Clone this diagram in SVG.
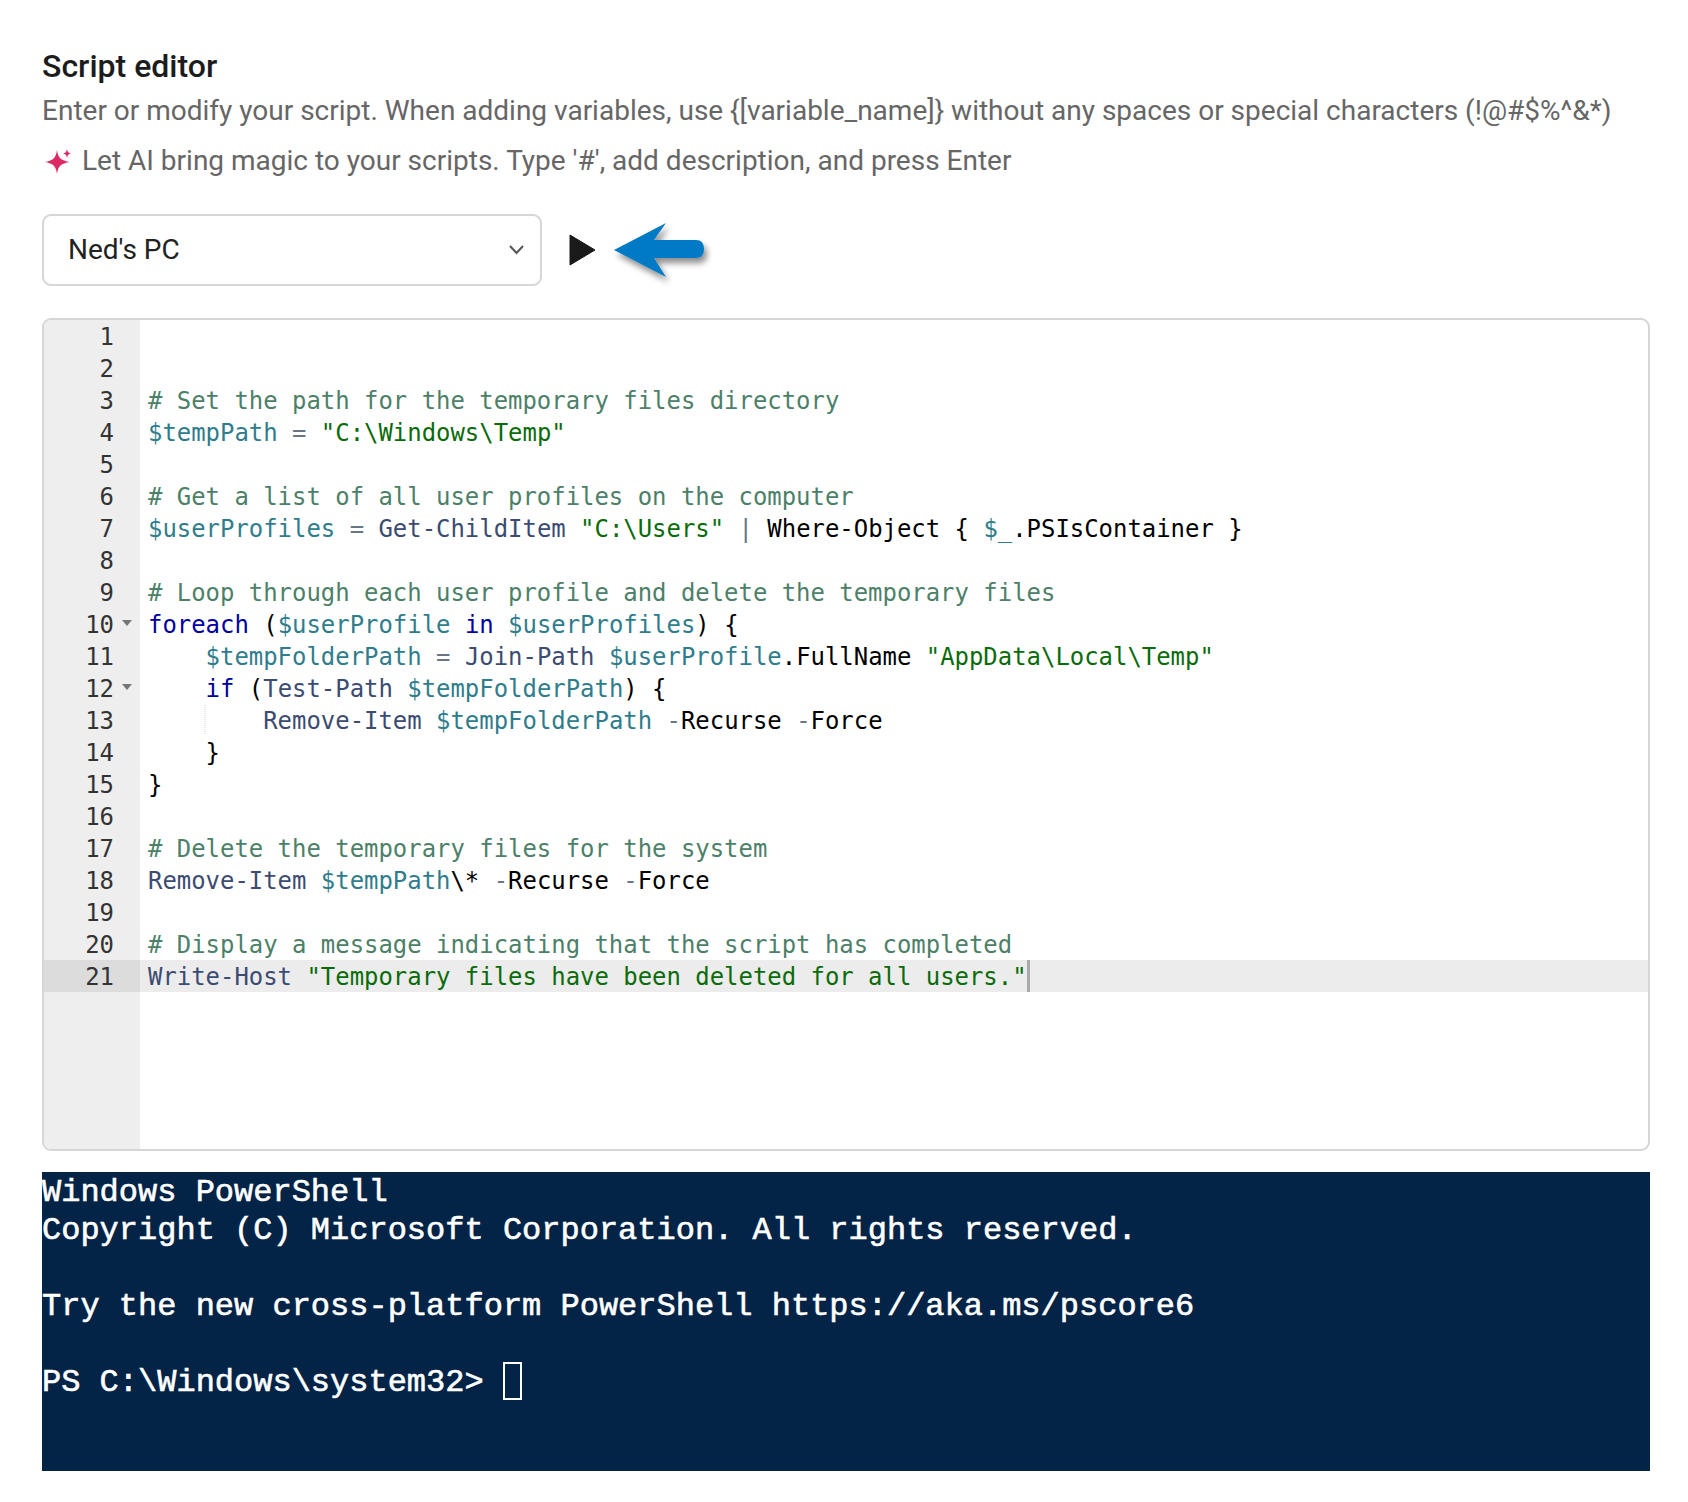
<svg xmlns="http://www.w3.org/2000/svg" width="1688" height="1502" viewBox="0 0 1688 1502">
<style>
text{white-space:pre}
.r{font-family:Roboto,"Liberation Sans",sans-serif}
.h{font-size:32px;font-weight:500;fill:#1c1c1c}
.s{font-size:28px;fill:#666}
.n{font-family:"DejaVu Sans Mono",monospace;font-size:23.93px;fill:#333;text-anchor:end}
.c{font-family:"DejaVu Sans Mono",monospace;font-size:23.93px;fill:#000}
.cm{fill:#4c8068}.v{fill:#2f7d8c}.st{fill:#0a6b0a}.k{fill:#0000a2}.f{fill:#3c4b72}.o{fill:#687687}
.t{font-family:"Liberation Mono",monospace;font-size:32px;fill:#fff;stroke:#fff;stroke-width:.6px}
</style>
<defs>
<filter id="shadow" x="-30%" y="-30%" width="170%" height="170%"><feDropShadow dx="3" dy="5" stdDeviation="3" flood-color="#000" flood-opacity=".45"/></filter>
</defs>
<rect width="1688" height="1502" fill="#fff"/>
<g id="header">
<text class="r h" x="42" y="76.5">Script editor</text>
<text class="r s" x="42" y="120">Enter or modify your script. When adding variables, use {[variable_name]} without any spaces or special characters (!@#$%^&amp;*)</text>
<path d="M57 150C58 158 61 160.500 70 162C61 163.500 58 166 57 174C56 166 53 163.500 45 162C53 160.500 56 158 57 150Z M67 149C67.500 152 68.500 153 71 153.500C68.500 154 67.500 155 67 158C66.500 155 65.500 154 63 153.500C65.500 153 66.500 152 67 149Z" fill="#dc2a64"/>
<text class="r s" x="82" y="170">Let AI bring magic to your scripts. Type '#', add description, and press Enter</text>
</g>
<g id="selector">
<rect x="43" y="215" width="498" height="70" rx="8" fill="#fff" stroke="#d6d6d6" stroke-width="2"/>
<text class="r" x="68" y="259" font-size="28" fill="#222">Ned's PC</text>
<path d="M510 246L516.500 253L523 246" fill="none" stroke="#555" stroke-width="2"/>
</g>
<g id="play"><path d="M570 235L595 250L570 265Z" fill="#1a1a1a" stroke="#1a1a1a" stroke-width="1" stroke-linejoin="round"/></g>
<g id="connectors">
<path d="M614 250L666 223L654 240H696Q704 240 704 249Q704 258 696 258H654L666 277Z" fill="#067ac4" filter="url(#shadow)"/>
</g>
<g id="editor">
<rect x="43" y="319" width="1606" height="831" rx="8" fill="#fff" stroke="#d6d6d6" stroke-width="2"/>
<path d="M44 327Q44 320 51 320H140V1149H51Q44 1149 44 1142Z" fill="#eee"/>
<rect x="44" y="960" width="96" height="32" fill="#dcdcdc"/>
<rect x="140" y="960" width="1508" height="32" fill="#ececec"/>
<rect x="1027" y="960" width="3" height="32" fill="#aaa"/>
<path d="M122 620H132L127 626Z M122 684H132L127 690Z" fill="#777"/>
<path d="M205 705V734" stroke="#d0d0d0" stroke-width="1" stroke-dasharray="1 1"/>
<g id="line-numbers" transform="translate(0 .5)">
<text class="n" x="114" y="344">1</text><text class="n" x="114" y="376">2</text><text class="n" x="114" y="408">3</text><text class="n" x="114" y="440">4</text><text class="n" x="114" y="472">5</text><text class="n" x="114" y="504">6</text><text class="n" x="114" y="536">7</text><text class="n" x="114" y="568">8</text><text class="n" x="114" y="600">9</text><text class="n" x="114" y="632">10</text><text class="n" x="114" y="664">11</text><text class="n" x="114" y="696">12</text><text class="n" x="114" y="728">13</text><text class="n" x="114" y="760">14</text><text class="n" x="114" y="792">15</text><text class="n" x="114" y="824">16</text><text class="n" x="114" y="856">17</text><text class="n" x="114" y="888">18</text><text class="n" x="114" y="920">19</text><text class="n" x="114" y="952">20</text><text class="n" x="114" y="984">21</text>
</g>
<g id="code" transform="translate(0 .5)">
<text class="c cm" x="148" y="408"># Set the path for the temporary files directory</text>
<text class="c" x="148" y="440"><tspan class="v">$tempPath</tspan> <tspan class="o">=</tspan> <tspan class="st">"C:\Windows\Temp"</tspan></text>
<text class="c cm" x="148" y="504"># Get a list of all user profiles on the computer</text>
<text class="c" x="148" y="536"><tspan class="v">$userProfiles</tspan> <tspan class="o">=</tspan> <tspan class="f">Get-ChildItem</tspan> <tspan class="st">"C:\Users"</tspan> <tspan class="o">|</tspan> Where-Object { <tspan class="v">$_</tspan>.PSIsContainer }</text>
<text class="c cm" x="148" y="600"># Loop through each user profile and delete the temporary files</text>
<text class="c" x="148" y="632"><tspan class="k">foreach</tspan> (<tspan class="v">$userProfile</tspan> <tspan class="k">in</tspan> <tspan class="v">$userProfiles</tspan>) {</text>
<text class="c" x="148" y="664">    <tspan class="v">$tempFolderPath</tspan> <tspan class="o">=</tspan> <tspan class="f">Join-Path</tspan> <tspan class="v">$userProfile</tspan>.FullName <tspan class="st">"AppData\Local\Temp"</tspan></text>
<text class="c" x="148" y="696">    <tspan class="k">if</tspan> (<tspan class="f">Test-Path</tspan> <tspan class="v">$tempFolderPath</tspan>) {</text>
<text class="c" x="148" y="728">        <tspan class="f">Remove-Item</tspan> <tspan class="v">$tempFolderPath</tspan> <tspan class="o">-</tspan>Recurse <tspan class="o">-</tspan>Force</text>
<text class="c" x="148" y="760">    }</text>
<text class="c" x="148" y="792">}</text>
<text class="c cm" x="148" y="856"># Delete the temporary files for the system</text>
<text class="c" x="148" y="888"><tspan class="f">Remove-Item</tspan> <tspan class="v">$tempPath</tspan>\* <tspan class="o">-</tspan>Recurse <tspan class="o">-</tspan>Force</text>
<text class="c cm" x="148" y="952"># Display a message indicating that the script has completed</text>
<text class="c" x="148" y="984"><tspan class="f">Write-Host</tspan> <tspan class="st">"Temporary files have been deleted for all users."</tspan></text>
</g>
</g>
<g id="terminal">
<rect x="42" y="1172" width="1608" height="299" fill="#032446"/>
<text class="t" x="42" y="1201">Windows PowerShell</text>
<text class="t" x="42" y="1239">Copyright (C) Microsoft Corporation. All rights reserved.</text>
<text class="t" x="42" y="1315">Try the new cross-platform PowerShell https://aka.ms/pscore6</text>
<text class="t" x="42" y="1391">PS C:\Windows\system32&gt;</text>
<rect x="504" y="1363" width="17" height="36" fill="none" stroke="#fff" stroke-width="2"/>
</g>
</svg>
